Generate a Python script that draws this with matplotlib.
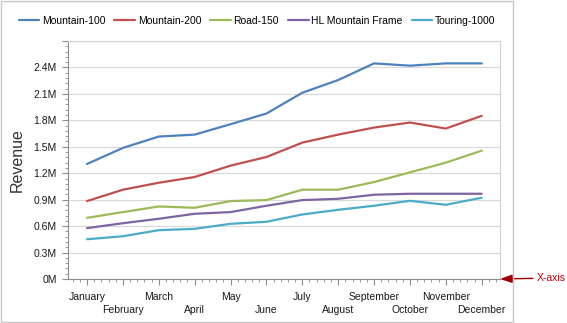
import matplotlib
matplotlib.use("Agg")
import matplotlib.pyplot as plt
from matplotlib.ticker import MultipleLocator, FuncFormatter
from matplotlib.patches import Rectangle

months = ['January', 'February', 'March', 'April', 'May', 'June', 'July',
          'August', 'September', 'October', 'November', 'December']
mountain_100 = [1.305, 1.487, 1.616, 1.638, 1.756, 1.877, 2.113, 2.257, 2.446, 2.420, 2.446, 2.446]
mountain_200 = [0.884, 1.013, 1.092, 1.157, 1.286, 1.384, 1.547, 1.638, 1.718, 1.775, 1.707, 1.851]
road_150 = [0.694, 0.759, 0.823, 0.808, 0.884, 0.895, 1.013, 1.013, 1.100, 1.210, 1.320, 1.456]
hl_frame = [0.577, 0.633, 0.683, 0.740, 0.759, 0.831, 0.895, 0.910, 0.956, 0.967, 0.967, 0.967]
touring_1000 = [0.451, 0.485, 0.554, 0.569, 0.626, 0.649, 0.732, 0.785, 0.831, 0.887, 0.842, 0.922]

series = [('Mountain-100', mountain_100, '#4F81BD'),
          ('Mountain-200', mountain_200, '#C0504D'),
          ('Road-150', road_150, '#9BBB59'),
          ('HL Mountain Frame', hl_frame, '#8064A2'),
          ('Touring-1000', touring_1000, '#4BACC6')]

plt.rcParams['font.family'] = ['Liberation Sans', 'DejaVu Sans']

W, H = 567, 323
fig = plt.figure(figsize=(W / 100, H / 100), dpi=100)
ax = fig.add_axes([68 / W, 1 - 279 / H, (500 - 68) / W, (279 - 41) / H])

x = list(range(len(months)))
for name, vals, col in series:
    ax.plot(x, vals, color=col, lw=1.6, label=name, solid_capstyle='round')

ax.set_xlim(-0.53, 11.51)
ax.set_ylim(0, 2.7)

ax.yaxis.set_major_locator(MultipleLocator(0.3))
ax.yaxis.set_minor_locator(MultipleLocator(0.06))
ax.yaxis.set_major_formatter(FuncFormatter(lambda v, p: '' if v > 2.45 else ('0M' if abs(v) < 1e-9 else '%.1fM' % v)))
ax.set_xticks(x)
ax.set_xticklabels(months)
ax.xaxis.set_minor_locator(MultipleLocator(0.2))

ax.grid(axis='y', color='#D9D9D9', lw=0.8)
ax.set_axisbelow(True)
for s in ['top', 'right']:
    ax.spines[s].set_color('#D0D0D0')
for s in ['left', 'bottom']:
    ax.spines[s].set_color('#8C8C8C')
ax.tick_params(axis='both', which='major', length=4, color='#8C8C8C', labelsize=7.5, labelcolor='#1A1A1A')
ax.tick_params(axis='both', which='minor', length=2.5, color='#8C8C8C')
ax.tick_params(axis='y', pad=4)
ax.tick_params(axis='x', pad=5)
# stagger the month labels on two rows
for i, t in enumerate(ax.xaxis.get_major_ticks()):
    if i % 2:
        t.set_pad(15)

ax.set_ylabel('Revenue', fontsize=11.5, color='#333333')
ax.yaxis.set_label_coords((25 - 68) / 432, 0.5)

ax.legend(loc='center', bbox_to_anchor=(257 / W, 1 - 21 / H), bbox_transform=fig.transFigure,
          ncol=5, frameon=False, fontsize=7.5, handlelength=2.0, handletextpad=0.25,
          columnspacing=0.85, borderpad=0)

ax.annotate('X-axis', xy=(1.0, 0), xycoords='axes fraction',
            xytext=(537 / W, 1 - 278 / H), textcoords='figure fraction',
            ha='left', va='center', fontsize=7.5, color='#C00000', annotation_clip=False,
            arrowprops=dict(arrowstyle='-|>,head_length=0.72,head_width=0.25', color='#A00000',
                            lw=1.0, shrinkA=1, shrinkB=0, mutation_scale=10))

fig.patches.append(Rectangle((0.5 / W, 1.3 / H), 512.5 / W, (321.5 - 0.5) / H,
                             transform=fig.transFigure, fill=False, ec='#C8C8C8', lw=1))

fig.savefig('out.png', dpi=100)
